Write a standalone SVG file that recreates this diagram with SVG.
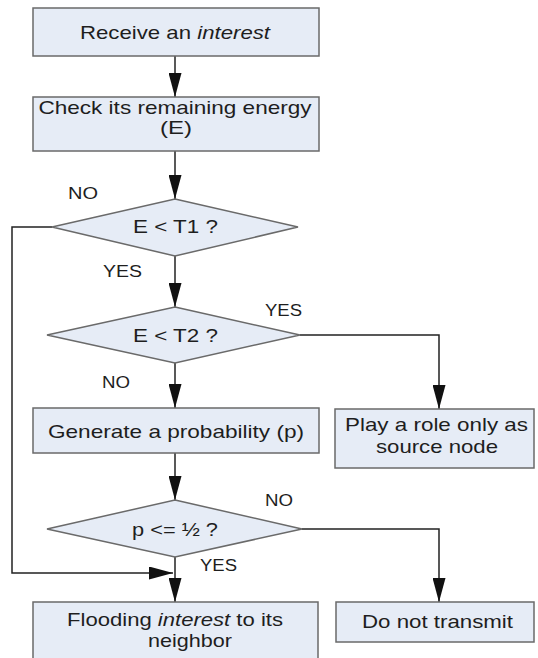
<svg xmlns="http://www.w3.org/2000/svg" width="538" height="658" viewBox="0 0 538 658">
<style>
.box{fill:#e6ecf6;stroke:#6a6a6a;stroke-width:1.5}
.dia{fill:#e6ecf6;stroke:#6a6a6a;stroke-width:1.5}
.t{font-family:"Liberation Sans",Arial,sans-serif;font-size:18.5px;fill:#1e1e1e;text-anchor:middle}
.lbl{font-family:"Liberation Sans",Arial,sans-serif;font-size:16px;fill:#1e1e1e}
.c{fill:none;stroke:#222;stroke-width:1.5}
</style>
<defs>
<marker id="ah" viewBox="0 0 24 13" refX="24" refY="6.5" markerWidth="24" markerHeight="13" markerUnits="userSpaceOnUse" orient="auto">
<path d="M0,0 L24,6.5 L0,13 z" fill="#111"/>
</marker>
</defs>
<rect width="538" height="658" fill="#fff"/>
<g id="connectors">
<path class="c" d="M175,56 V97" marker-end="url(#ah)"/>
<path class="c" d="M175,151 V199" marker-end="url(#ah)"/>
<path class="c" d="M175,256 V307" marker-end="url(#ah)"/>
<path class="c" d="M175,363 V408" marker-end="url(#ah)"/>
<path class="c" d="M175,453 V500" marker-end="url(#ah)"/>
<path class="c" d="M175,557 V602" marker-end="url(#ah)"/>
<path class="c" d="M52,227 H12 V573 H173" marker-end="url(#ah)"/>
<path class="c" d="M300,335 H439 V409" marker-end="url(#ah)"/>
<path class="c" d="M302,529 H439 V602" marker-end="url(#ah)"/>
<text class="lbl" x="68" y="199" textLength="30" lengthAdjust="spacingAndGlyphs">NO</text>
<text class="lbl" x="103" y="277" textLength="39" lengthAdjust="spacingAndGlyphs">YES</text>
<text class="lbl" x="265" y="316" textLength="37" lengthAdjust="spacingAndGlyphs">YES</text>
<text class="lbl" x="102" y="388" textLength="28" lengthAdjust="spacingAndGlyphs">NO</text>
<text class="lbl" x="265" y="506" textLength="28" lengthAdjust="spacingAndGlyphs">NO</text>
<text class="lbl" x="200" y="571" textLength="37" lengthAdjust="spacingAndGlyphs">YES</text>
</g>
<g id="receive">
<rect class="box" x="33" y="8" width="286" height="48"/>
<text class="t" x="175" y="39" textLength="190" lengthAdjust="spacingAndGlyphs">Receive an <tspan font-style="italic">interest</tspan></text>
</g>
<g id="check">
<rect class="box" x="33" y="97" width="286" height="54"/>
<text class="t" x="175" y="114" textLength="273" lengthAdjust="spacingAndGlyphs">Check its remaining energy</text>
<text class="t" x="176" y="134" textLength="32" lengthAdjust="spacingAndGlyphs">(E)</text>
</g>
<g id="dec1">
<polygon class="dia" points="175,199 298,227 175,256 52,227"/>
<text class="t" x="175.5" y="233" textLength="85" lengthAdjust="spacingAndGlyphs">E &lt; T1 ?</text>
</g>
<g id="dec2">
<polygon class="dia" points="175,307 300,335 175,363 47,335"/>
<text class="t" x="175.5" y="342" textLength="85" lengthAdjust="spacingAndGlyphs">E &lt; T2 ?</text>
</g>
<g id="generate">
<rect class="box" x="33" y="408" width="286" height="45"/>
<text class="t" x="176" y="438" textLength="256" lengthAdjust="spacingAndGlyphs">Generate a probability (p)</text>
</g>
<g id="source">
<rect class="box" x="335" y="409" width="199" height="59"/>
<text class="t" x="436.5" y="431" textLength="183" lengthAdjust="spacingAndGlyphs">Play a role only as</text>
<text class="t" x="437" y="453" textLength="122" lengthAdjust="spacingAndGlyphs">source node</text>
</g>
<g id="dec3">
<polygon class="dia" points="175,500 302,529 175,557 47,529"/>
<text class="t" x="175" y="536" textLength="86" lengthAdjust="spacingAndGlyphs">p &lt;= ½ ?</text>
</g>
<g id="flooding">
<rect class="box" x="33" y="602" width="285" height="62"/>
<text class="t" x="175" y="626" textLength="216" lengthAdjust="spacingAndGlyphs">Flooding <tspan font-style="italic">interest</tspan> to its</text>
<text class="t" x="190" y="647" textLength="84" lengthAdjust="spacingAndGlyphs">neighbor</text>
</g>
<g id="notransmit">
<rect class="box" x="336" y="602" width="198" height="40"/>
<text class="t" x="437.5" y="628" textLength="151" lengthAdjust="spacingAndGlyphs">Do not transmit</text>
</g>
</svg>
